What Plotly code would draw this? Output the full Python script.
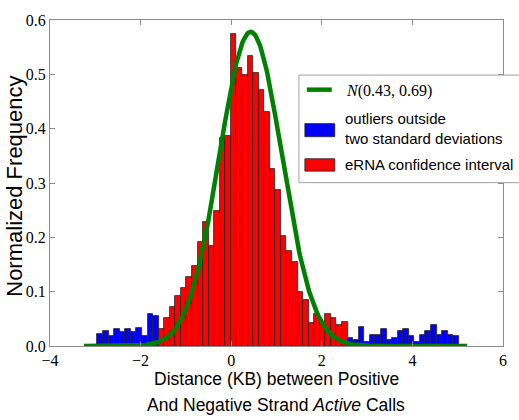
import numpy as np
import plotly.graph_objects as go

# ---- data ----
bin_start = -2.952          # left edge of first histogram bin (KB)
bin_width = 0.1227          # histogram bin width (KB)

outliers_left = [0.022, 0.028, 0.018, 0.031, 0.025, 0.031, 0.025, 0.034, 0.018, 0.059, 0.056]
erna_ci = [0.031, 0.051, 0.072, 0.092, 0.107, 0.127, 0.148, 0.192, 0.229, 0.184, 0.249, 0.382,
           0.386, 0.574, 0.512, 0.498, 0.533, 0.502, 0.471, 0.431, 0.326, 0.287, 0.202, 0.174,
           0.155, 0.100, 0.085, 0.042, 0.059, 0.042, 0.059, 0.051, 0.039, 0.045]
outliers_right = [0.0145, 0.011, 0.035, 0.0067, 0.021, 0.021, 0.031, 0.011, 0.0145, 0.028,
                  0.031, 0.018, 0.0067, 0.021, 0.028, 0.039, 0.021, 0.028, 0.021, 0.018]

fit_mean = 0.43
fit_sd = 0.69
fit_x_range = [-3.25, 5.21]

x_ticks = [-4, -2, 0, 2, 4, 6]
y_ticks = [0.0, 0.1, 0.2, 0.3, 0.4, 0.5, 0.6]

# ---- derived bin positions ----
heights = outliers_left + erna_ci + outliers_right
centers = bin_start + bin_width * (np.arange(len(heights)) + 0.5)
nL, nR = len(outliers_left), len(erna_ci)
x_left = centers[:nL]
x_red = centers[nL:nL + nR]
x_right = centers[nL + nR:]

fx = np.linspace(fit_x_range[0], fit_x_range[1], 400)
fy = np.exp(-0.5 * ((fx - fit_mean) / fit_sd) ** 2) / (fit_sd * np.sqrt(2 * np.pi))

edge = dict(color="#222222", width=0.8)
fig = go.Figure()
fig.add_trace(go.Bar(x=np.concatenate([x_left, x_right]), y=outliers_left + outliers_right,
                     width=bin_width, marker=dict(color="#0000ff", line=edge)))
fig.add_trace(go.Bar(x=x_red, y=erna_ci, width=bin_width,
                     marker=dict(color="#ff0000", line=edge)))
fig.add_trace(go.Scatter(x=fx, y=fy, mode="lines", line=dict(color="#008000", width=4.5)))

# plot area in pixels: left 50, right 505, top 14.7, bottom 346
L, R, T, B = 50, 505, 14.7, 346
W, H = 519, 420
def px(x):
    return (x - L) / (R - L)
def py(y):
    return (B - y) / (B - T)

tickfont = dict(family="Liberation Serif, Times New Roman, serif", size=16, color="#000")
axis_common = dict(showline=True, linecolor="#8c8c8c", linewidth=1, mirror="ticks",
                   ticks="inside", ticklen=5, tickcolor="#8c8c8c", showgrid=False,
                   zeroline=False, tickfont=tickfont)

sans = "Liberation Sans, Arial, Helvetica, sans-serif"
shapes = [
    dict(type="rect", xref="paper", yref="paper", x0=px(300), x1=px(523), y0=py(180), y1=py(70.7),
         line=dict(color="#a0a0a0", width=1), fillcolor="white", layer="above"),
    dict(type="line", xref="paper", yref="paper", x0=px(308), x1=px(333), y0=py(85.5), y1=py(85.5),
         line=dict(color="#008000", width=4.5), layer="above"),
    dict(type="rect", xref="paper", yref="paper", x0=px(306), x1=px(336), y0=py(133.3), y1=py(120),
         line=dict(color="#222", width=0.8), fillcolor="#0000ff", layer="above"),
    dict(type="rect", xref="paper", yref="paper", x0=px(306), x1=px(336), y0=py(168.3), y1=py(155.7),
         line=dict(color="#222", width=0.8), fillcolor="#ff0000", layer="above"),
]
annotations = [
    dict(text="<i>N</i>(0.43, 0.69)", xref="paper", yref="paper", x=px(345), y=py(87),
         xanchor="left", yanchor="middle", showarrow=False,
         font=dict(family="Liberation Serif, Times New Roman, serif", size=16, color="#000")),
    dict(text="outliers outside<br>two standard deviations", xref="paper", yref="paper",
         x=px(344), y=py(125), xanchor="left", yanchor="middle", showarrow=False, align="left",
         font=dict(family=sans, size=15, color="#000")),
    dict(text="eRNA confidence interval", xref="paper", yref="paper", x=px(344), y=py(162),
         xanchor="left", yanchor="middle", showarrow=False,
         font=dict(family=sans, size=15, color="#000")),
    dict(text="Distance (KB) between Positive", xref="paper", yref="paper", x=px(277), y=py(380),
         xanchor="center", yanchor="middle", showarrow=False,
         font=dict(family=sans, size=17.5, color="#000")),
    dict(text="And Negative Strand <i>Active</i> Calls", xref="paper", yref="paper", x=px(277),
         y=py(406), xanchor="center", yanchor="middle", showarrow=False,
         font=dict(family=sans, size=17.5, color="#000")),
    dict(text="Normalized Frequency", xref="paper", yref="paper", x=px(14), y=py(184),
         xanchor="center", yanchor="middle", showarrow=False, textangle=-90,
         font=dict(family=sans, size=22, color="#000")),
]

fig.update_layout(
    width=W, height=H,
    margin=dict(l=L, r=W - R, t=T, b=H - B, pad=0),
    paper_bgcolor="white", plot_bgcolor="white",
    showlegend=False, bargap=0, barmode="overlay",
    xaxis=dict(range=[-4, 6], tickvals=x_ticks, ticktext=[("\u2212" + str(-v)) if v < 0 else str(v) for v in x_ticks],
               **axis_common),
    yaxis=dict(range=[0, 0.6], tickvals=y_ticks, ticktext=[f"{v:.1f}" for v in y_ticks],
               **axis_common),
    shapes=shapes, annotations=annotations,
)
fig.write_html("out.html", config={"displayModeBar": False},
               post_script="document.body.style.margin='0';document.body.style.overflow='hidden';")
